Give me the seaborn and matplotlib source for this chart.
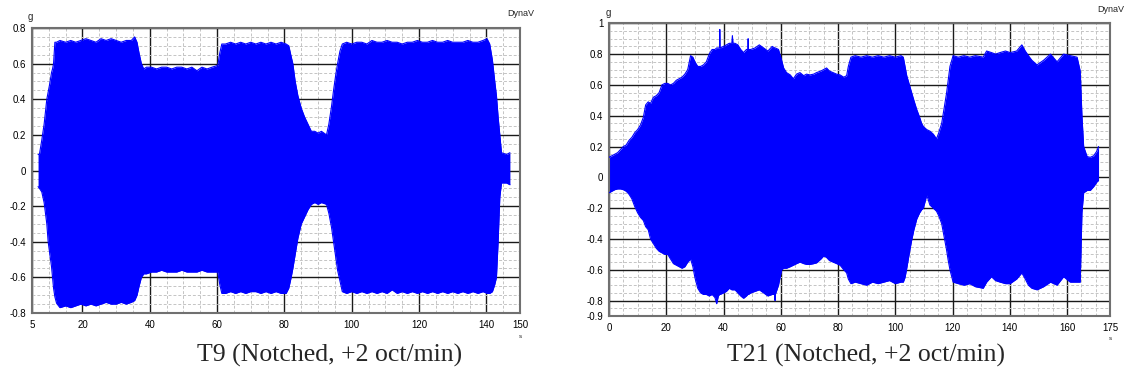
import numpy as np
import pandas as pd
import matplotlib
matplotlib.use("Agg")
import matplotlib.pyplot as plt
import seaborn as sns
from matplotlib.ticker import FixedLocator, MultipleLocator

# ---------------- data (envelope of the measured acceleration, g) ----------------
t9_time = [6.8, 7.2, 7.9, 8.6, 9.4, 9.8, 10.3, 10.8, 11.1, 11.4, 11.8, 12.3, 13.3,
           15, 16.5, 18, 19.5, 21, 22.5, 24, 25.5, 27, 28.5, 30, 31.5, 33, 34.5,
           35.5, 36.2, 36.8, 37.5, 38.2, 39, 40.5, 42, 43.5, 45, 46.5, 48, 49.5,
           51, 52.5, 54, 55.5, 57, 58.5, 60.2, 60.8, 61.4, 62.5, 64, 65.5, 67,
           68.5, 70, 71.5, 73, 74.5, 76, 77.5, 79, 80.5, 81.3, 82, 82.5, 83.2,
           84, 85, 86, 87, 88, 89, 90, 91, 92.5, 93.2, 94, 94.6, 95.2, 95.8,
           96.5, 97.2, 98.5, 100, 101.5, 103, 104.5, 106, 107.5, 109, 110.5,
           112, 113.5, 115, 116.5, 118, 119.5, 121, 122.5, 124, 125.5, 127,
           128.5, 130, 131.5, 133, 134.5, 136, 137.5, 139, 140.2, 141, 141.8,
           142.5, 143, 143.5, 144, 144.5, 146, 147]
t9_upper = [0.09, 0.09, 0.17, 0.26, 0.40, 0.44, 0.49, 0.55, 0.57, 0.60, 0.72, 0.72, 0.73,
            0.72, 0.73, 0.72, 0.73, 0.74, 0.73, 0.72, 0.74, 0.73, 0.74, 0.73, 0.72, 0.73, 0.73,
            0.75, 0.72, 0.66, 0.60, 0.57, 0.58, 0.58, 0.57, 0.58, 0.58, 0.57, 0.58, 0.58,
            0.57, 0.58, 0.56, 0.58, 0.57, 0.58, 0.59, 0.66, 0.71, 0.71, 0.72, 0.71, 0.72,
            0.71, 0.72, 0.71, 0.72, 0.71, 0.72, 0.71, 0.72, 0.71, 0.70, 0.64, 0.60, 0.50,
            0.42, 0.35, 0.30, 0.26, 0.22, 0.22, 0.21, 0.22, 0.20, 0.26, 0.36, 0.45, 0.53, 0.60,
            0.67, 0.71, 0.72, 0.71, 0.72, 0.72, 0.71, 0.73, 0.72, 0.72, 0.73,
            0.72, 0.72, 0.71, 0.72, 0.72, 0.73, 0.72, 0.72, 0.73, 0.72, 0.72,
            0.73, 0.72, 0.72, 0.72, 0.73, 0.72, 0.72, 0.73, 0.74, 0.71, 0.62,
            0.50, 0.42, 0.30, 0.20, 0.10, 0.09, 0.10]
t9_lower = [-0.09, -0.10, -0.12, -0.18, -0.30, -0.40, -0.47, -0.54, -0.60, -0.66, -0.71, -0.745, -0.77,
            -0.76, -0.77, -0.76, -0.75, -0.76, -0.75, -0.76, -0.75, -0.74, -0.75, -0.75, -0.74, -0.75, -0.74,
            -0.73, -0.70, -0.65, -0.60, -0.58, -0.58, -0.57, -0.57, -0.56, -0.57, -0.57, -0.57, -0.56,
            -0.57, -0.57, -0.57, -0.56, -0.57, -0.57, -0.57, -0.64, -0.69, -0.69, -0.68, -0.69, -0.68,
            -0.69, -0.68, -0.68, -0.69, -0.68, -0.69, -0.68, -0.69, -0.69, -0.66, -0.60, -0.55, -0.47,
            -0.38, -0.30, -0.26, -0.22, -0.19, -0.18, -0.19, -0.18, -0.19, -0.24, -0.32, -0.40, -0.48, -0.56,
            -0.62, -0.68, -0.69, -0.68, -0.69, -0.68, -0.69, -0.68, -0.69, -0.68, -0.69,
            -0.67, -0.69, -0.68, -0.69, -0.68, -0.69, -0.68, -0.69, -0.68, -0.69, -0.68,
            -0.69, -0.68, -0.69, -0.68, -0.69, -0.68, -0.69, -0.68, -0.69, -0.69, -0.68,
            -0.64, -0.60, -0.40, -0.15, -0.07, -0.07, -0.08]

t21_time = [0, 1, 2, 3, 4, 5, 6, 7, 8, 9, 10, 11, 12, 12.8, 13.7, 14.5, 15.5, 16.5,
            17.5, 18.5, 19.5, 20.5, 21.5, 22.5, 23.5, 24.5, 25.5, 26.5, 27.5, 28.5,
            29.3, 30, 31, 32, 33, 34, 35, 36, 37, 37.6, 38.2, 38.6, 38.7, 38.8, 40,
            41, 42, 42.9, 43.1, 43.3, 44, 45, 46, 47, 48, 48.5, 48.6, 48.7, 49.5, 51,
            52.5, 54, 55.5, 57, 57.9, 58, 58.1, 59.2, 60.3, 61, 62, 63.3, 64.4, 65.5,
            66.7, 68, 69, 70.2, 71.5, 72.5, 74, 75, 76, 77, 78.3, 79.5, 80.7, 82, 83,
            83.6, 84.5, 86, 88, 90, 92, 94, 96, 98, 100, 102, 102.8, 103.4, 104,
            105.1, 105.7, 106.5, 107.5, 108.5, 109.2, 109.8, 111, 112.1, 113.3,
            114.4, 115.2, 116.2, 117, 117.9, 118.5, 119.1, 120.2, 122, 124, 126,
            128, 130.7, 131.9, 133.6, 135, 136.6, 138.5, 140.1, 142.4, 144.2,
            145.4, 146.5, 147.7, 149.5, 151.8, 154.2, 156.5, 158.8, 161.1, 163.5,
            164.6, 165.2, 165.8, 167, 168.1, 169.3, 170.4, 171]
t21_upper = [0.13, 0.14, 0.15, 0.16, 0.18, 0.20, 0.21, 0.24, 0.26, 0.29, 0.31, 0.34, 0.39, 0.47, 0.49, 0.48, 0.52, 0.53,
             0.55, 0.60, 0.61, 0.61, 0.60, 0.61, 0.63, 0.64, 0.65, 0.67, 0.70, 0.79,
             0.78, 0.75, 0.72, 0.72, 0.73, 0.75, 0.80, 0.83, 0.83, 0.84, 0.84, 0.84, 0.96, 0.84, 0.85,
             0.86, 0.87, 0.87, 0.92, 0.87, 0.87, 0.86, 0.83, 0.81, 0.83, 0.83, 0.90, 0.83, 0.83, 0.84,
             0.86, 0.84, 0.82, 0.85, 0.84, 0.84, 0.84, 0.83, 0.76, 0.71, 0.68, 0.665, 0.64, 0.67,
             0.68, 0.66, 0.67, 0.665, 0.67, 0.68, 0.69, 0.70, 0.71, 0.69, 0.68, 0.67, 0.665, 0.65, 0.66,
             0.72, 0.78, 0.79, 0.78, 0.79, 0.78, 0.79, 0.78, 0.79, 0.78, 0.79, 0.78, 0.72, 0.66,
             0.59, 0.55, 0.50, 0.44, 0.39, 0.35, 0.33, 0.31, 0.30, 0.28,
             0.25, 0.29, 0.35, 0.44, 0.545, 0.63, 0.72, 0.79, 0.78, 0.79, 0.78,
             0.79, 0.78, 0.82, 0.81, 0.80, 0.81, 0.82, 0.81, 0.82, 0.86,
             0.82, 0.79, 0.76, 0.73, 0.76, 0.80, 0.75, 0.80, 0.79, 0.78,
             0.69, 0.40, 0.20, 0.135, 0.13, 0.14, 0.17, 0.20]
t21_lower = [-0.10, -0.09, -0.08, -0.075, -0.075, -0.08, -0.09, -0.11, -0.14, -0.19, -0.23, -0.26, -0.28, -0.32, -0.34, -0.40, -0.43, -0.46,
             -0.48, -0.49, -0.50, -0.50, -0.53, -0.56, -0.57, -0.58, -0.59, -0.58, -0.55, -0.53,
             -0.58, -0.65, -0.72, -0.75, -0.76, -0.76, -0.77, -0.76, -0.78, -0.82, -0.77, -0.76, -0.76, -0.76, -0.75,
             -0.74, -0.72, -0.73, -0.73, -0.73, -0.73, -0.75, -0.77, -0.785, -0.77, -0.76, -0.76, -0.76, -0.75, -0.74,
             -0.73, -0.75, -0.77, -0.76, -0.76, -0.80, -0.76, -0.70, -0.60, -0.59, -0.59, -0.58, -0.57, -0.56,
             -0.55, -0.56, -0.565, -0.565, -0.56, -0.555, -0.53, -0.51, -0.52, -0.54, -0.55, -0.56, -0.57, -0.60, -0.62,
             -0.66, -0.69, -0.68, -0.69, -0.70, -0.68, -0.69, -0.68, -0.67, -0.69, -0.68, -0.68, -0.65, -0.59,
             -0.47, -0.41, -0.34, -0.27, -0.23, -0.21, -0.20, -0.115, -0.18, -0.20,
             -0.22, -0.25, -0.30, -0.38, -0.47, -0.54, -0.60, -0.68, -0.69, -0.70, -0.69,
             -0.71, -0.72, -0.68, -0.645, -0.67, -0.68, -0.69, -0.69, -0.66, -0.62,
             -0.66, -0.70, -0.72, -0.73, -0.71, -0.68, -0.70, -0.645, -0.68, -0.68,
             -0.68, -0.23, -0.10, -0.085, -0.085, -0.06, -0.03, -0.02]

t9_xticks = [5, 20, 40, 60, 80, 100, 120, 140, 150]
t9_yticks = [-0.8, -0.6, -0.4, -0.2, 0, 0.2, 0.4, 0.6, 0.8]
t9_ylabels = ["-0.8", "-0.6", "-0.4", "-0.2", "0", "0.2", "0.4", "0.6", "0.8"]
t21_xticks = [0, 20, 40, 60, 80, 100, 120, 140, 160, 175]
t21_yticks = [-0.9, -0.8, -0.6, -0.4, -0.2, 0, 0.2, 0.4, 0.6, 0.8, 1]
t21_ylabels = ["-0.9", "-0.8", "-0.6", "-0.4", "-0.2", "0", "0.2", "0.4", "0.6", "0.8", "1"]
captions = ["T9 (Notched, +2 oct/min)", "T21 (Notched, +2 oct/min)"]

# ---------------- style ----------------
sns.set_style("white")
plt.rcParams["font.family"] = ["Liberation Sans", "DejaVu Sans"]
plt.rcParams["axes.unicode_minus"] = False

BLUE = "#0000ff"

fig = plt.figure(figsize=(11.24, 3.76), dpi=100)
ax1 = fig.add_axes([32 / 1124, 1 - 313 / 376, 488 / 1124, 285 / 376])
ax2 = fig.add_axes([609 / 1124, 1 - 316 / 376, 501 / 1124, 292.7 / 376])


def draw(ax, time, upper, lower, xlim, ylim, xticks, yticks, ylabels):
    df = pd.DataFrame({"t": time, "up": upper, "lo": lower})
    ax.fill_between(df["t"], df["lo"], df["up"], color=BLUE, lw=0, zorder=2)
    sns.lineplot(data=df, x="t", y="up", ax=ax, color=BLUE, lw=0.8, zorder=3)
    sns.lineplot(data=df, x="t", y="lo", ax=ax, color=BLUE, lw=0.8, zorder=3)
    ax.set_xlim(*xlim)
    ax.set_ylim(*ylim)
    ax.xaxis.set_major_locator(FixedLocator(xticks))
    ax.set_xticklabels([str(v) for v in xticks])
    ax.yaxis.set_major_locator(FixedLocator(yticks))
    ax.set_yticklabels(ylabels)
    ax.xaxis.set_minor_locator(MultipleLocator(5))
    ax.yaxis.set_minor_locator(MultipleLocator(0.05))
    ax.grid(which="minor", color="#c4c4c4", lw=0.7, ls=(0, (3, 2)))
    ax.grid(which="major", color="#1a1a1a", lw=1.0, ls="-")
    ax.set_axisbelow(True)
    ax.tick_params(which="both", length=0, labelsize=7, colors="#000000")
    ax.tick_params(axis="x", pad=5)
    ax.tick_params(axis="y", pad=4)
    ax.set_xlabel("")
    ax.set_ylabel("")
    for s in ax.spines.values():
        s.set_color("#707070")
        s.set_linewidth(1.5)
    ax.set_facecolor("white")


draw(ax1, t9_time, t9_upper, t9_lower, (5, 150), (-0.8, 0.8), t9_xticks, t9_yticks, t9_ylabels)
draw(ax2, t21_time, t21_upper, t21_lower, (0, 175), (-0.9, 1.0), t21_xticks, t21_yticks, t21_ylabels)

# unit labels and header fragments
fig.text(30 / 1124, 1 - 17 / 376, "g", fontsize=7, ha="center", va="center")
fig.text(608 / 1124, 1 - 12.5 / 376, "g", fontsize=7, ha="center", va="center")
fig.text(507 / 1124, 1 - 14 / 376, "DynaV", fontsize=6.5, ha="left", va="center")
fig.text(1097 / 1124, 1 - 10 / 376, "DynaV", fontsize=6.5, ha="left", va="center")
fig.text(520 / 1124, 1 - 337 / 376, "s", fontsize=4.5, ha="center", va="center")
fig.text(1110 / 1124, 1 - 339 / 376, "s", fontsize=4.5, ha="center", va="center")

# captions
fig.text(330 / 1124, 1 - 355 / 376, captions[0], fontsize=18.5, family="Liberation Serif",
         ha="center", va="center")
fig.text(866 / 1124, 1 - 355 / 376, captions[1], fontsize=18.5, family="Liberation Serif",
         ha="center", va="center")

fig.savefig("out.png", dpi=100, facecolor="white")
